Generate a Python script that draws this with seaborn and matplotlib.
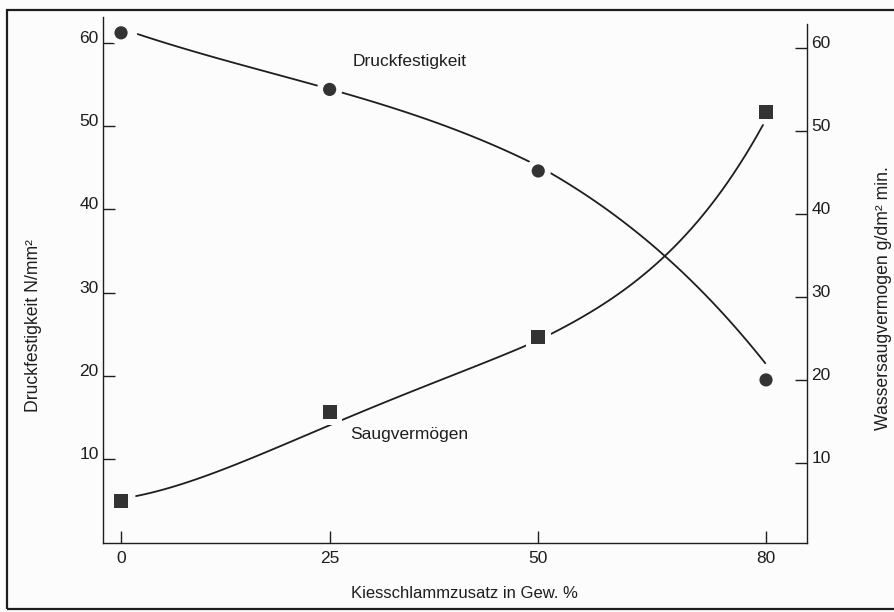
import numpy as np
import pandas as pd
import matplotlib
matplotlib.use('Agg')
import matplotlib.pyplot as plt
import seaborn as sns
from matplotlib.patches import Rectangle

sns.set_theme(style='white')
plt.rcParams['font.family'] = ['Liberation Sans', 'DejaVu Sans']

zusatz = [0, 25, 50, 80]                      # Kiesschlammzusatz in Gew. %
druckfestigkeit = [61.2, 54.4, 44.6, 19.5]    # N/mm2 (left axis)
saugvermoegen = [5.4, 16.1, 25.2, 52.3]       # g/dm2 min. (right axis)

# hand-drawn trend curves
druck_curve_x = [2.0, 13.0, 23.9, 26.9, 37.0, 47.5, 52.2, 60.0, 66.9, 73.7, 77.5, 79.9]
druck_curve_y = [60.7, 58.2, 55.2, 54.0, 50.2, 45.6, 43.8, 39.8, 34.9, 28.3, 24.3, 20.9]
saug_curve_x = [1.8, 13.1, 25.9, 37.2, 48.4, 51.7, 58.4, 63.0, 66.9, 72.5, 77.1, 79.6]
saug_curve_y = [6.0, 9.6, 14.9, 19.5, 24.1, 25.7, 28.8, 32.0, 35.4, 40.5, 46.9, 50.7]

x_ticks = [0, 25, 50, 80]
y_ticks = [10, 20, 30, 40, 50, 60]

points = pd.DataFrame({'zusatz': zusatz, 'druck': druckfestigkeit, 'saug': saugvermoegen})
druck_line = pd.DataFrame({'x': druck_curve_x, 'y': druck_curve_y})
saug_line = pd.DataFrame({'x': saug_curve_x, 'y': saug_curve_y})

ink = '#1e1e1e'
mark = '#333333'
bg = '#fcfcfc'


# the original x axis is squeezed a little beyond 50
def fwd(x):
    x = np.asarray(x, dtype=float)
    return np.where(x <= 50, x, 50 + (x - 50) * 0.91)


def inv(t):
    t = np.asarray(t, dtype=float)
    return np.where(t <= 50, t, 50 + (t - 50) / 0.91)


fig = plt.figure(figsize=(8.95, 6.12), dpi=100, facecolor=bg)
ax = fig.add_axes([0.1151, 0.1127, 0.7866, 0.8595])
ax.set_facecolor(bg)
ax2 = ax.twinx()

ax.set_xscale('function', functions=(fwd, inv))

# Druckfestigkeit: smooth curve + circles with a light halo that breaks the line
sns.regplot(data=druck_line, x='x', y='y', order=3, ci=None, scatter=False,
            truncate=True, ax=ax, line_kws=dict(color=ink, lw=1.3, zorder=2))
sns.scatterplot(data=points, x='zusatz', y='druck', ax=ax, marker='o', s=330,
                color=bg, edgecolor='none', zorder=3, legend=False)
sns.scatterplot(data=points, x='zusatz', y='druck', ax=ax, marker='o', s=90,
                color=mark, edgecolor='none', zorder=4, legend=False)

# Saugvermoegen: smooth curve + squares with a light halo
sns.regplot(data=saug_line, x='x', y='y', order=4, ci=None, scatter=False,
            truncate=True, ax=ax2, line_kws=dict(color=ink, lw=1.3, zorder=2))
sns.scatterplot(data=points, x='zusatz', y='saug', ax=ax2, marker='s', s=330,
                color=bg, edgecolor='none', zorder=3, legend=False)
sns.scatterplot(data=points, x='zusatz', y='saug', ax=ax2, marker='s', s=100,
                color=mark, edgecolor='none', zorder=4, legend=False)

ax.set_xlim(-2.16, 85.4)
ax.set_ylim(-0.1, 63.1)
ax2.set_ylim(0.36, 63.7)

ax.set_xticks(x_ticks)
ax.set_xticklabels([str(v) for v in x_ticks])
ax.set_yticks(y_ticks)
ax.set_yticklabels([str(v) for v in y_ticks])
ax2.set_yticks(y_ticks)
ax2.set_yticklabels([str(v) for v in y_ticks])

for a in (ax, ax2):
    for s in a.spines.values():
        s.set_visible(False)
    a.grid(False)
ax.spines['left'].set_visible(True)
ax.spines['bottom'].set_visible(True)
ax2.spines['right'].set_visible(True)
ax2.spines['right'].set_bounds(0.36, 62.8)
for s in (ax.spines['left'], ax.spines['bottom'], ax2.spines['right']):
    s.set_color(ink)
    s.set_linewidth(1.0)

ax.tick_params(axis='both', direction='in', length=8.5, width=1.0, color=ink,
               labelsize=12.5, labelcolor=ink)
ax.tick_params(axis='x', pad=6, bottom=True)
ax.tick_params(axis='y', pad=3, left=True)
ax2.tick_params(axis='y', direction='in', length=8.5, width=1.0, color=ink,
                labelsize=12.5, labelcolor=ink, pad=3, right=True)
for lab in ax.get_yticklabels() + ax2.get_yticklabels():
    lab.set_va('baseline')

ax.set_xlabel('Kiesschlammzusatz in Gew. %', fontsize=12, color=ink)
ax.set_ylabel('Druckfestigkeit N/mm²', fontsize=12.7, color=ink)
ax2.set_ylabel('Wassersaugvermogen g/dm² min.', fontsize=12.7, color=ink)
ax.xaxis.set_label_coords(0.513, -0.082)
ax.yaxis.set_label_coords(-0.086, 0.414)
ax2.yaxis.set_label_coords(1.096, 0.466)

ax.text(27.7, 57.8, 'Druckfestigkeit', fontsize=12.5, color=ink, ha='left', va='center')
ax2.text(27.5, 13.4, 'Saugvermögen', fontsize=12.5, color=ink, ha='left', va='center')

# scanned page frame (no right edge visible)
fig.add_artist(Rectangle((7 / 895, 3 / 612), 1.0, 1 - 13 / 612, transform=fig.transFigure,
                         fill=False, edgecolor=ink, lw=1.6))

fig.savefig('out.png', dpi=100, facecolor=bg)
